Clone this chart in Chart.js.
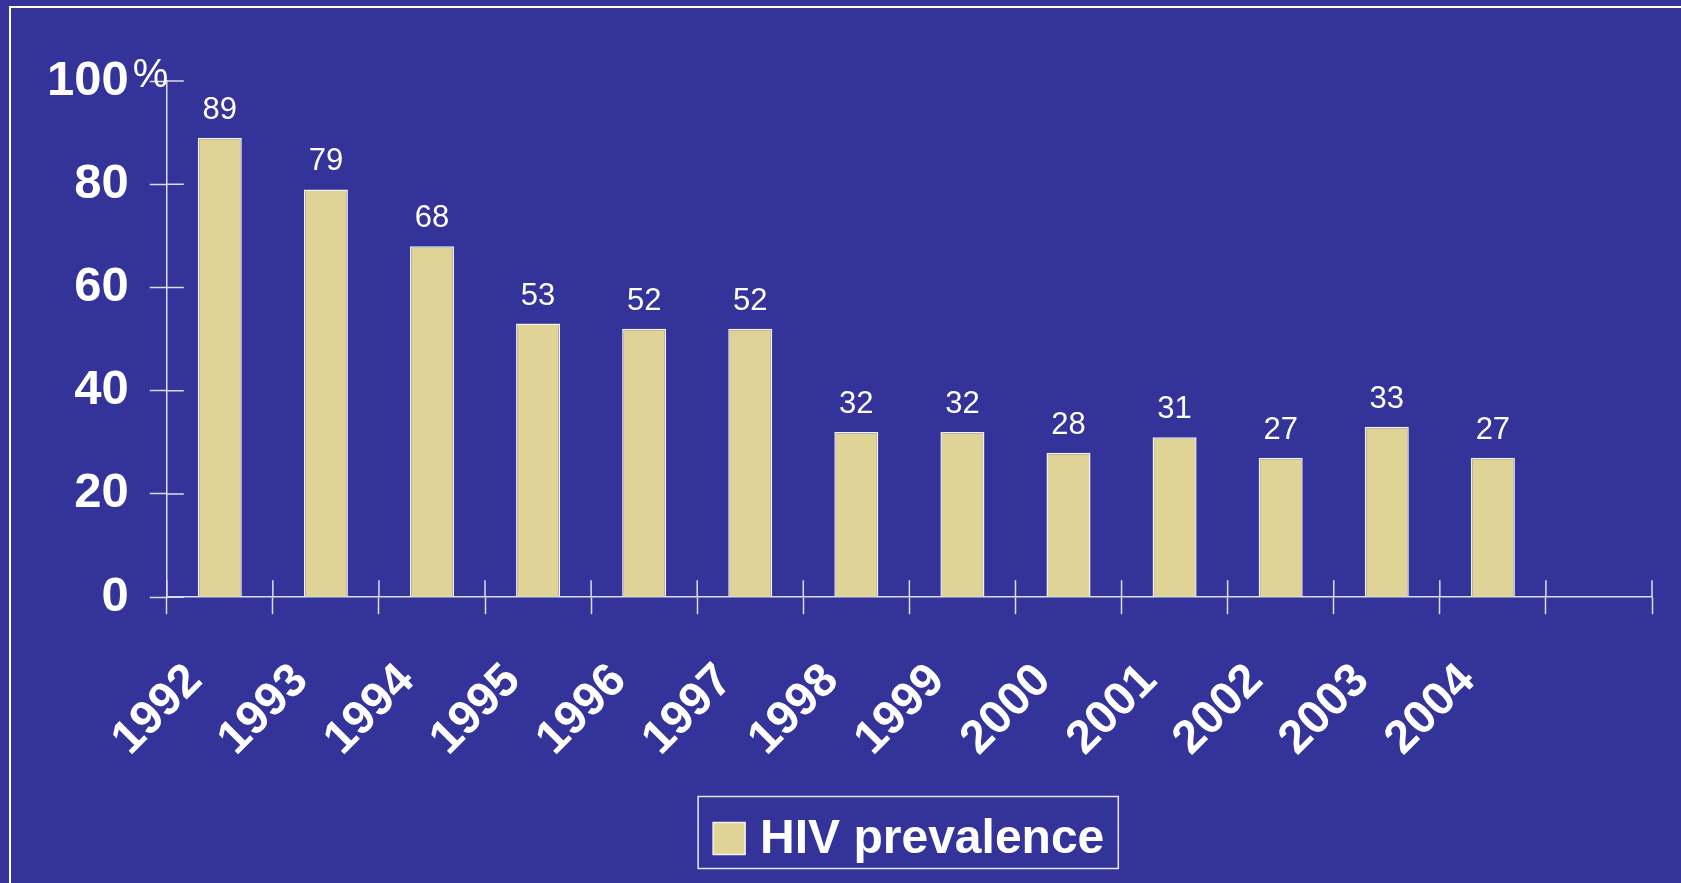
<!DOCTYPE html>
<html>
<head>
<meta charset="utf-8">
<script src="https://cdn.jsdelivr.net/npm/chart.js@4"></script>
<style>
  html, body { margin: 0; padding: 0; background: #333399; overflow: hidden; }
  #marco { position: absolute; left: 9px; top: 6px; width: 1670px; height: 900px;
           border-top: 2px solid #ffffff; border-left: 2px solid #ffffff; border-right: 1px solid #8a8ad0; }
  #caja { position: absolute; left: 0; top: 0; width: 1681px; height: 883px; }
</style>
</head>
<body>
<div id="marco"></div>
<div id="caja"><canvas id="grafica"></canvas></div>
<script>
const anios = ['1992', '1993', '1994', '1995', '1996', '1997', '1998', '1999', '2000', '2001', '2002', '2003', '2004', ''];
const prevalencia = [89, 79, 68, 53, 52, 52, 32, 32, 28, 31, 27, 33, 27, null];
const marcasY = [0, 20, 40, 60, 80, 100];
const grafica = document.getElementById('grafica');

const blanco = '#ffffff';
const lineaEje = '#dcdcf0';
const fuente = '"Liberation Sans", Arial, sans-serif';

// valores encima de cada barra
const etiquetasBarras = {
  id: 'etiquetasBarras',
  afterDatasetsDraw(chart) {
    const ctx = chart.ctx;
    ctx.save();
    ctx.fillStyle = blanco;
    ctx.font = '31px ' + fuente;
    ctx.textAlign = 'center';
    ctx.textBaseline = 'alphabetic';
    chart.getDatasetMeta(0).data.forEach(function(barra, i) {
      const v = prevalencia[i];
      if (v === null) return;
      ctx.fillText(String(v), barra.x, barra.y - 19);
    });
    ctx.restore();
  }
};

// marcas que cruzan los ejes, el signo %, el texto y el recuadro de la leyenda
const marcasCruzadas = {
  id: 'marcasCruzadas',
  afterDraw(chart) {
    const ctx = chart.ctx;
    const x = chart.scales.x;
    const y = chart.scales.y;
    ctx.save();
    ctx.strokeStyle = lineaEje;
    ctx.lineWidth = 1.5;
    ctx.beginPath();
    marcasY.forEach(function(v) {
      const py = y.getPixelForValue(v);
      ctx.moveTo(x.left, py);
      ctx.lineTo(x.left + 17, py);
    });
    const n = anios.length;
    const paso = (x.right - x.left) / n;
    for (let i = 0; i <= n; i++) {
      const px = x.left + i * paso;
      ctx.moveTo(px, y.bottom);
      ctx.lineTo(px, y.bottom - 17);
    }
    ctx.stroke();

    ctx.fillStyle = blanco;
    ctx.font = '40px ' + fuente;
    ctx.textAlign = 'left';
    ctx.textBaseline = 'alphabetic';
    ctx.fillText('%', x.left - 34, y.getPixelForValue(100) + 6);

    const caja = chart.legend.legendHitBoxes[0];
    if (caja) {
      const cy = caja.top + caja.height / 2;
      const texto = chart.data.datasets[0].label;
      ctx.font = 'bold 48px ' + fuente;
      const tx = caja.left + 32 + 15;
      const ancho = ctx.measureText(texto).width;
      ctx.fillText(texto, tx, cy + 14);
      ctx.strokeStyle = '#e8e8f4';
      ctx.lineWidth = 1.5;
      const izq = caja.left - 15;
      ctx.strokeRect(izq, cy - 42, tx + ancho + 14 - izq, 72);
    }
    ctx.restore();
  }
};

const datos = {
  labels: anios,
  datasets: [{
    label: 'HIV prevalence',
    data: prevalencia,
    backgroundColor: '#E0D396',
    borderColor: '#f2f2f2',
    borderWidth: 1.5,
    categoryPercentage: 1,
    barPercentage: 0.415
  }]
};

const configuracion = {
  type: 'bar',
  data: datos,
  options: {
    responsive: true,
    maintainAspectRatio: false,
    animation: false,
    layout: { padding: { left: 26, right: 29, top: 81, bottom: 11 } },
    scales: {
      x: {
        afterFit(eje) {
          eje.paddingLeft = 0;
          eje.height -= 1;
        },
        grid: { display: true, drawOnChartArea: false, offset: true, tickLength: 17, tickColor: lineaEje, tickWidth: 1.5 },
        border: { display: true, color: lineaEje, width: 1.5 },
        ticks: {
          color: blanco,
          maxRotation: 45,
          minRotation: 45,
          autoSkip: false,
          padding: 39,
          labelOffset: -25,
          font: { family: fuente, size: 47, weight: 'bold' }
        }
      },
      y: {
        min: 0,
        max: 100,
        afterBuildTicks(eje) { eje.ticks = marcasY.map(function(v) { return { value: v }; }); },
        grid: { display: true, drawOnChartArea: false, tickLength: 17, tickColor: lineaEje, tickWidth: 1.5 },
        border: { display: true, color: lineaEje, width: 1.5 },
        ticks: {
          color: blanco,
          padding: 21,
          font: { family: fuente, size: 49, weight: 'bold' }
        }
      }
    },
    plugins: {
      tooltip: { enabled: false },
      legend: {
        position: 'bottom',
        fullSize: false,
        labels: {
          color: 'rgba(0,0,0,0)',
          boxWidth: 32,
          boxHeight: 32,
          padding: 10,
          font: { family: fuente, size: 47, weight: 'bold' }
        }
      }
    }
  },
  plugins: [etiquetasBarras, marcasCruzadas]
};

new Chart(grafica, configuracion);
</script>
</body>
</html>
